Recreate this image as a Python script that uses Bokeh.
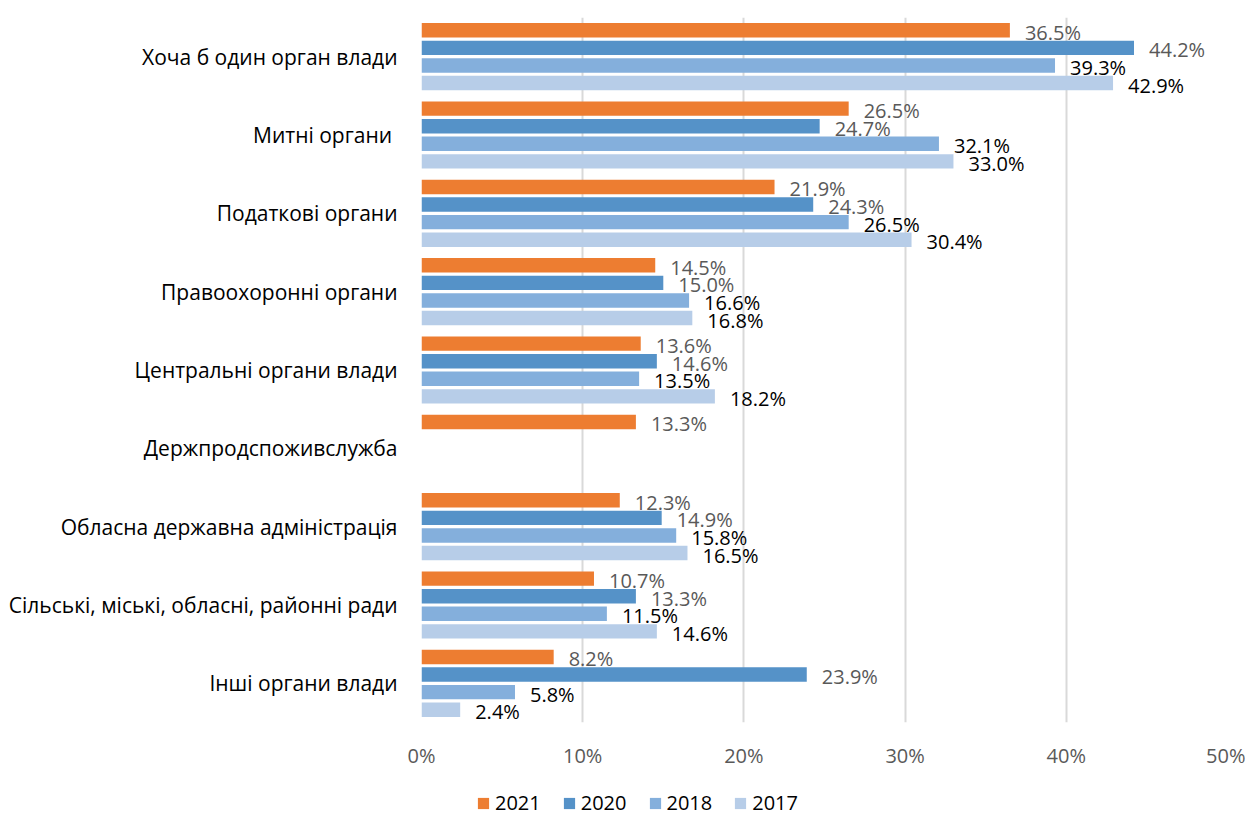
from bokeh.plotting import figure
from bokeh.models import (FactorRange, Range1d, ColumnDataSource, FixedTicker,
                          PrintfTickFormatter, Legend, LegendItem)
from bokeh.layouts import column
from bokeh.transform import dodge
from bokeh.core.properties import value
from bokeh.embed import file_html
from bokeh.resources import INLINE

categories = [
    "Хоча б один орган влади",
    "Митні органи ",
    "Податкові органи",
    "Правоохоронні органи",
    "Центральні органи влади",
    "Держпродспоживслужба",
    "Обласна державна адміністрація",
    "Сільські, міські, обласні, районні ради",
    "Інші органи влади",
]
years = ["2021", "2020", "2018", "2017"]
v2021 = [36.5, 26.5, 21.9, 14.5, 13.6, 13.3, 12.3, 10.7, 8.2]
v2020 = [44.2, 24.7, 24.3, 15.0, 14.6, None, 14.9, 13.3, 23.9]
v2018 = [39.3, 32.1, 26.5, 16.6, 13.5, None, 15.8, 11.5, 5.8]
v2017 = [42.9, 33.0, 30.4, 16.8, 18.2, None, 16.5, 14.6, 2.4]
x_ticks = [0, 10, 20, 30, 40, 50]

series = [v2021, v2020, v2018, v2017]
colors = ["#ED7D31", "#5592C8", "#84AFDC", "#B7CDE8"]
label_colors = ["#595959", "#595959", "#000000", "#000000"]
offsets = [0.337, 0.112, -0.112, -0.337]

FONT = "Open Sans"
FS = "20px"

p = figure(
    y_range=FactorRange(factors=categories[::-1], range_padding=0, factor_padding=0),
    x_range=Range1d(0, 50),
    width=1245, height=776, title=None,
    output_backend="svg", toolbar_location=None,
    min_border_left=421, min_border_right=18, min_border_top=17, min_border_bottom=54,
)
p.outline_line_color = None
p.ygrid.grid_line_color = None
p.xgrid.grid_line_color = "#D9D9D9"
p.xgrid.grid_line_width = 2

for yr, vals, col, lcol, off in zip(years, series, colors, label_colors, offsets):
    cats = [c for c, v in zip(categories, vals) if v is not None]
    vs = [v for v in vals if v is not None]
    src = ColumnDataSource(dict(cat=cats, v=vs, lbl=[f"{v:.1f}%" for v in vs]))
    p.hbar(y=dodge("cat", off, range=p.y_range), right="v", left=0, height=0.184,
           source=src, fill_color=col, line_color=None)
    p.text(x="v", y=dodge("cat", off, range=p.y_range), text="lbl", source=src,
           x_offset=15, y_offset=2, text_baseline="middle", text_align="left",
           text_font=value(FONT), text_font_size=FS, text_color=lcol)

p.xaxis.ticker = FixedTicker(ticks=x_ticks)
p.xaxis.formatter = PrintfTickFormatter(format="%d%%")
p.xaxis.axis_line_color = None
p.xaxis.major_tick_line_color = None
p.xaxis.major_tick_out = 0
p.xaxis.major_tick_in = 0
p.xaxis.minor_tick_line_color = None
p.xaxis.major_label_text_font = FONT
p.xaxis.major_label_text_font_size = FS
p.xaxis.major_label_text_color = "#595959"
p.xaxis.major_label_standoff = 19

p.yaxis.axis_line_color = None
p.yaxis.major_tick_line_color = None
p.yaxis.major_tick_out = 0
p.yaxis.major_tick_in = 0
p.yaxis.minor_tick_line_color = None
p.yaxis.major_label_text_font = FONT
p.yaxis.major_label_text_font_size = "21px"
p.yaxis.major_label_text_color = "#000000"
p.yaxis.major_label_standoff = 24

# legend in its own strip below the chart
lf = figure(width=1245, height=40, output_backend="svg", toolbar_location=None,
            x_range=Range1d(0, 1), y_range=Range1d(0, 1), title=None,
            x_axis_type=None, y_axis_type=None, min_border=0)
lf.outline_line_color = None
lf.grid.visible = False
lf.background_fill_color = None
lf.border_fill_color = None
items = []
nan = float("nan")
for yr, col in zip(years, colors):
    r = lf.hbar(y=[nan], right=[nan], left=[nan], height=0.5, fill_color=col, line_color=None)
    items.append(LegendItem(label=yr, renderers=[r]))
lg = Legend(items=items, orientation="horizontal", location=(55, 0))
lg.border_line_color = None
lg.background_fill_alpha = 0
lg.glyph_width = 14
lg.glyph_height = 14
lg.label_text_font = FONT
lg.label_text_font_size = FS
lg.label_text_color = "#000000"
lg.label_standoff = 5
lg.spacing = 21
lg.padding = 0
lg.margin = 0
lf.add_layout(lg)

layout = column(p, lf, spacing=0)
open("out.html", "w").write(file_html(layout, INLINE))
